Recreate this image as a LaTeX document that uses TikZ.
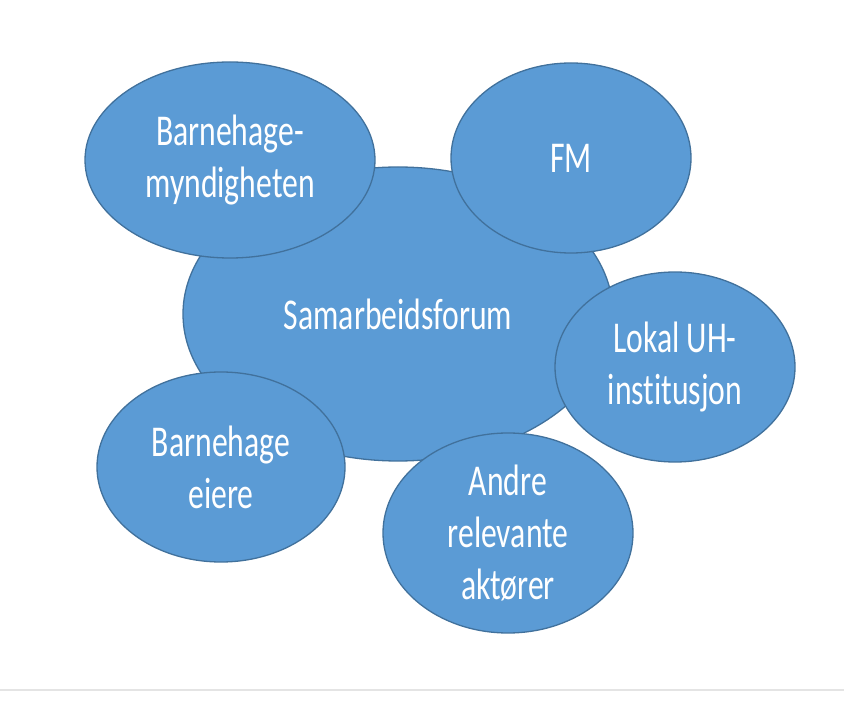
\documentclass[tikz,border=0pt]{standalone}
\usepackage{fontspec}
\setmainfont{Carlito}
\newfontfamily\bobfont[FakeStretch=0.72,Ligatures=NoCommon]{Carlito}
\usetikzlibrary{shapes.geometric}
\definecolor{bobfyll}{HTML}{5B9BD5}
\definecolor{bobkant}{HTML}{41719C}
\definecolor{strek}{HTML}{E4E4E4}
\begin{document}
\begin{tikzpicture}[x=1pt,y=-1pt,
	bob/.style={ellipse, draw=bobkant, fill=bobfyll, line width=1.3pt, inner sep=0pt,
		text=white, align=center, font=\bobfont\fontsize{44}{52}\selectfont}]
		\useasboundingbox (0,0) rectangle (844,727);
		\node[bob, minimum width=430, minimum height=294] (forum) at (398,314) {Samarbeidsforum};
		\node[bob, minimum width=290, minimum height=196] (myndighet) at (230,160) {Barnehage-\\myndigheten};
		\node[bob, minimum width=240, minimum height=190] (fm) at (571,158) {FM};
		\node[bob, minimum width=240, minimum height=190] (uh) at (675,367) {Lokal UH-\\institusjon};
		\node[bob, minimum width=248, minimum height=190] (eiere) at (221,467) {Barnehage\\eiere};
		\node[bob, minimum width=250, minimum height=200, inner ysep=-6pt] (andre) at (508,533) {Andre\\relevante\\aktører};
		\coordinate (venstre) at (0,690);
		\coordinate (hoyre) at (844,690);
		\draw[strek, line width=2pt] (venstre) -- (hoyre);
\end{tikzpicture}
\end{document}
